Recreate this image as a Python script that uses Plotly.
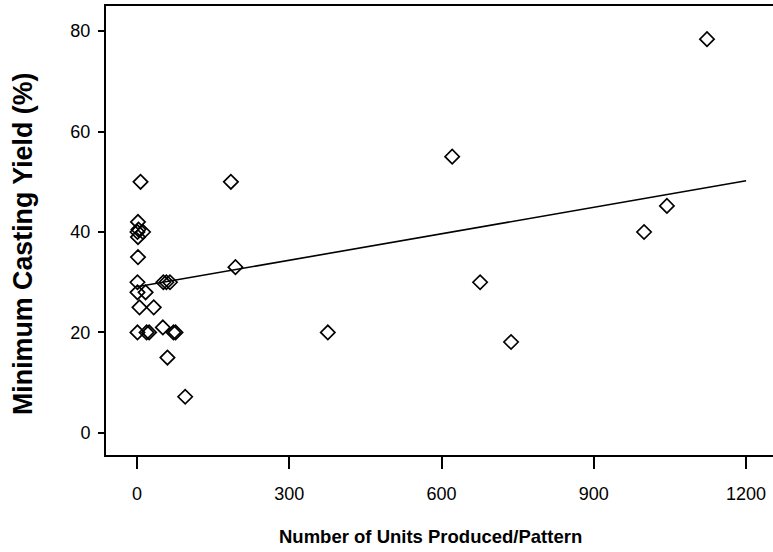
import plotly.graph_objects as go

# Units produced per pattern vs. minimum casting yield (%)
units = [7, 2, 1, 3, 12, 2, 2, 1, 1, 17, 52, 58, 65, 5, 33, 1, 19, 24, 51, 72, 76, 60, 95,
         185, 194, 376, 621, 676, 737, 999, 1044, 1123]
yield_pct = [50, 42, 40, 40.5, 40, 39, 35, 30, 28, 28, 30, 30, 30, 25, 25, 20, 20, 20, 21, 20, 20, 15, 7.2,
             50, 33, 20, 55, 30, 18.1, 40, 45.2, 78.4]

# Fitted trend line endpoints
fit_x = [0, 1200]
fit_y = [29.1, 50.2]

x_ticks = [0, 300, 600, 900, 1200]
y_ticks = [0, 20, 40, 60, 80]

x_title = "Number of Units Produced/Pattern"
y_title = "Minimum Casting Yield (%)"

regular = "Liberation Sans, Arial, sans-serif"

fig = go.Figure()
fig.add_trace(go.Scatter(
    x=fit_x, y=fit_y, mode="lines",
    line=dict(color="black", width=1.6),
    showlegend=False, hoverinfo="skip",
))
fig.add_trace(go.Scatter(
    x=units, y=yield_pct, mode="markers",
    marker=dict(symbol="diamond-open", size=11, color="black", line=dict(width=1.7, color="black")),
    showlegend=False,
))

fig.update_layout(
    width=773, height=552,
    margin=dict(l=106, r=0, t=6, b=97),
    paper_bgcolor="white", plot_bgcolor="white",
    font=dict(family=regular, color="black"),
    xaxis=dict(
        range=[-61, 1253], tickvals=x_ticks, ticktext=[str(v) for v in x_ticks],
        showgrid=False, zeroline=False,
        showline=True, linecolor="black", linewidth=2, mirror=True,
        ticks="outside", ticklen=12, tickwidth=1.5, tickcolor="black",
        tickfont=dict(size=18),
        ticklabelstandoff=9,
    ),
    yaxis=dict(
        range=[-4.4, 85], tickvals=y_ticks, ticktext=[str(v) for v in y_ticks],
        showgrid=False, zeroline=False,
        showline=True, linecolor="black", linewidth=2,
        ticks="outside", ticklen=6, tickwidth=1.5, tickcolor="black",
        tickfont=dict(size=18),
        ticklabelstandoff=4,
    ),
    annotations=[
        dict(text=f"<b>{x_title}</b>", xref="paper", yref="paper",
             x=0.487, y=-0.1826, xanchor="center", yanchor="middle",
             showarrow=False, font=dict(size=18.5)),
        dict(text=f"<b>{y_title}</b>", xref="paper", yref="paper",
             x=-0.1244, y=0.47, xanchor="center", yanchor="middle", textangle=-90,
             showarrow=False, font=dict(size=26.8)),
    ],
)

fig.write_html("out.html")
